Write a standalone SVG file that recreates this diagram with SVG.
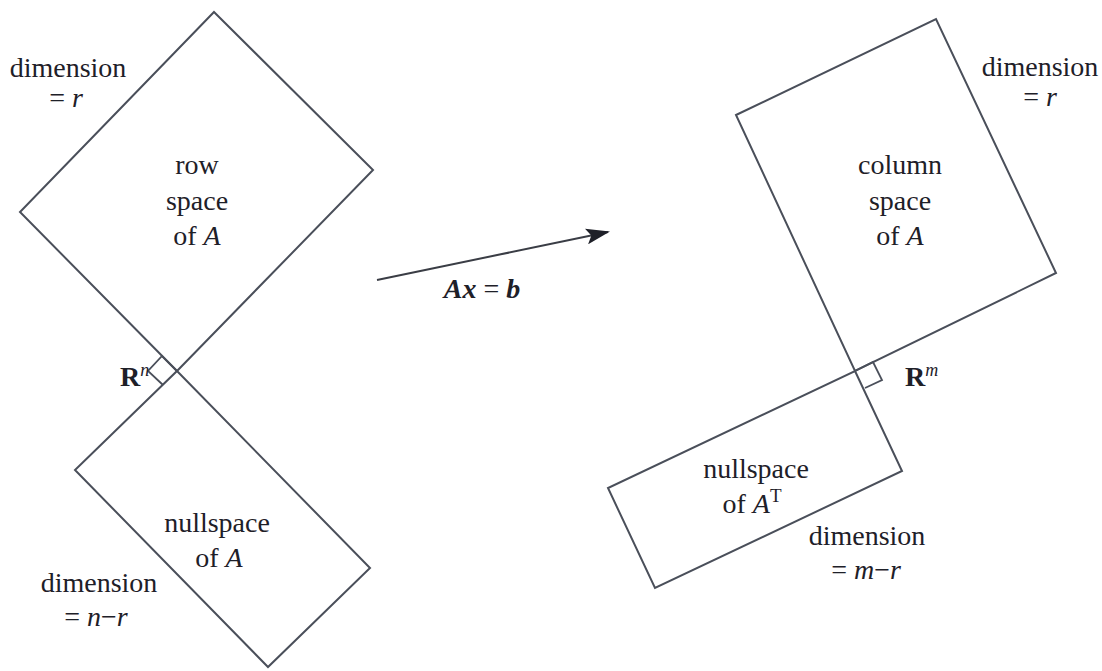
<svg xmlns="http://www.w3.org/2000/svg" width="1102" height="671" viewBox="0 0 1102 671">
<defs>
<style>
.box{fill:none;stroke:#4a4f5a;stroke-width:2;stroke-linejoin:miter}
.mark{fill:none;stroke:#4a4f5a;stroke-width:1.8}
.t{font-family:"Liberation Serif","Times New Roman",serif;font-size:28px;fill:#1e2028}
.c{text-anchor:middle}
.i{font-style:italic}
.b{font-weight:bold}
.conn{fill:none;stroke:#3a3d45;stroke-width:2}
</style>
<marker id="ah" viewBox="0 0 24 16" refX="22" refY="8" markerWidth="24" markerHeight="16" markerUnits="userSpaceOnUse" orient="auto">
<path d="M0,0 L24,8 L0,16 L5,8 Z" fill="#1e2028"/>
</marker>
</defs>
<rect width="1102" height="671" fill="#ffffff"/>
<g id="rowspace">
<polygon class="box" points="214,12 373,170 177,371 20,212"/>
<text class="t c" x="197" y="174">row</text>
<text class="t c" x="197" y="210">space</text>
<text class="t c" x="197" y="245">of <tspan class="i">A</tspan></text>
<text class="t c" x="68" y="77">dimension</text>
<text class="t c" x="66" y="107">= <tspan class="i">r</tspan></text>
</g>
<g id="nullspace">
<polygon class="box" points="177,371 370,568 268,667 75,470"/>
<polyline class="mark" points="177,371 162,356 148,371 163,385"/>
<text class="t c" x="217" y="532">nullspace</text>
<text class="t c" x="219" y="567">of <tspan class="i">A</tspan></text>
<text class="t c" x="99" y="592">dimension</text>
<text class="t c" x="96" y="626">= <tspan class="i">n</tspan>−<tspan class="i">r</tspan></text>
<text class="t" x="120" y="386"><tspan class="b">R</tspan><tspan class="i" font-size="18" dy="-10">n</tspan></text>
</g>
<g id="columnspace">
<polygon class="box" points="736,115 936,19 1056,273 855,371"/>
<text class="t c" x="900" y="174">column</text>
<text class="t c" x="900" y="210">space</text>
<text class="t c" x="900" y="245">of <tspan class="i">A</tspan></text>
<text class="t c" x="1040" y="76">dimension</text>
<text class="t c" x="1040" y="106">= <tspan class="i">r</tspan></text>
</g>
<g id="leftnullspace">
<polygon class="box" points="855,371 902,471 655,588 608,488"/>
<polyline class="mark" points="855,371 873,362 882,380 865,388"/>
<text class="t c" x="756" y="478">nullspace</text>
<text class="t c" x="752" y="513">of <tspan class="i">A</tspan><tspan font-size="19" dy="-11">T</tspan></text>
<text class="t c" x="867" y="545">dimension</text>
<text class="t c" x="866" y="579">= <tspan class="i">m</tspan>−<tspan class="i">r</tspan></text>
<text class="t" x="905" y="386"><tspan class="b">R</tspan><tspan class="i" font-size="18" dy="-10">m</tspan></text>
</g>
<g id="connectors">
<line class="conn" x1="377" y1="280" x2="608" y2="232" marker-end="url(#ah)"/>
<text class="t c i b" x="482" y="298">Ax <tspan font-style="normal" font-weight="normal">=</tspan> b</text>
</g>
</svg>
